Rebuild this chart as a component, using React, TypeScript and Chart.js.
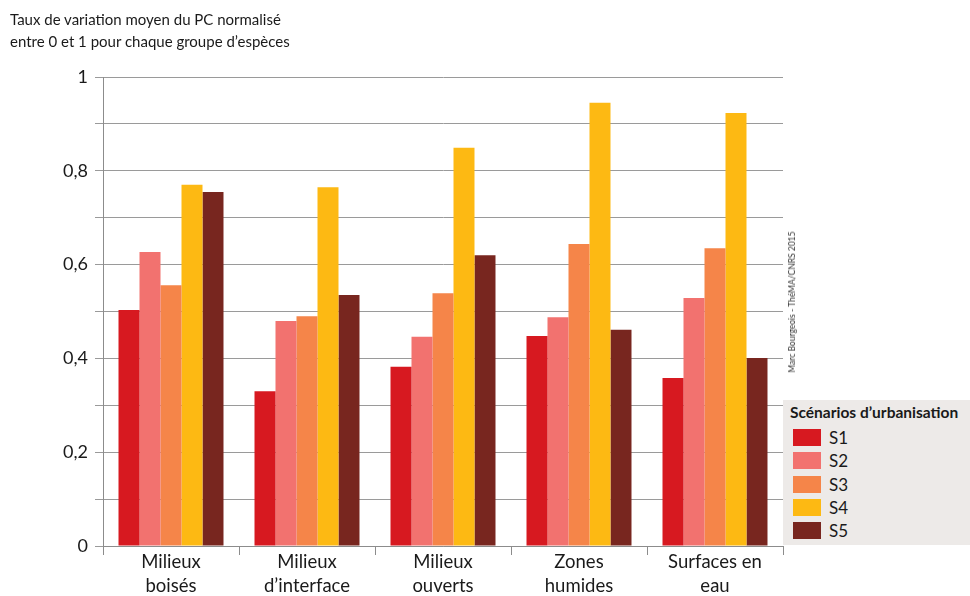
import React, { useEffect, useRef } from "react";
import { Chart, registerables } from "chart.js";

Chart.register(...registerables);

const categories: string[][] = [
  ["Milieux", "boisés"],
  ["Milieux", "d’interface"],
  ["Milieux", "ouverts"],
  ["Zones", "humides"],
  ["Surfaces en", "eau"],
];

const seriesNames = ["S1", "S2", "S3", "S4", "S5"];
const seriesColors = ["#D71920", "#F2726F", "#F58549", "#FDB913", "#78261F"];

const s1 = [0.503, 0.33, 0.382, 0.448, 0.358];
const s2 = [0.627, 0.48, 0.446, 0.488, 0.529];
const s3 = [0.556, 0.49, 0.539, 0.644, 0.635];
const s4 = [0.77, 0.765, 0.849, 0.945, 0.923];
const s5 = [0.755, 0.535, 0.62, 0.461, 0.401];
const seriesValues = [s1, s2, s3, s4, s5];

const yTickLabels: Record<string, string> = {
  "0": "0",
  "2": "0,2",
  "4": "0,4",
  "6": "0,6",
  "8": "0,8",
  "10": "1",
};

const titleLines = [
  "Taux de variation moyen du PC normalisé",
  "entre 0 et 1 pour chaque groupe d’espèces",
];
const legendTitle = "Scénarios d’urbanisation";
const credit = "Marc Bourgeois - ThéMA/CNRS 2015";

const FONT = "Lato, 'Open Sans', sans-serif";

export default function App() {
  const ref = useRef<HTMLCanvasElement | null>(null);

  useEffect(() => {
    if (!ref.current) return;
    const chart = new Chart(ref.current, {
      type: "bar",
      data: {
        labels: categories,
        datasets: seriesNames.map((name, i) => ({
          label: name,
          data: seriesValues[i],
          backgroundColor: seriesColors[i],
          borderWidth: 0,
          categoryPercentage: 0.772,
          barPercentage: 1,
        })),
      },
      options: {
        responsive: false,
        animation: false,
        devicePixelRatio: 1,
        layout: { padding: { left: 0, top: 77, right: 187, bottom: 0 } },
        plugins: {
          legend: { display: false },
          tooltip: { enabled: false },
          title: { display: false },
        },
        scales: {
          x: {
            offset: true,
            grid: {
              display: true,
              offset: true,
              drawOnChartArea: false,
              drawTicks: true,
              tickLength: 9,
              color: "#8c8c8c",
              lineWidth: 1,
            },
            border: { display: true, color: "#8c8c8c", width: 1 },
            ticks: {
              color: "#1a1a1a",
              font: { family: FONT, size: 18.5, lineHeight: 1.3 },
              padding: -5,
              maxRotation: 0,
              autoSkip: false,
            },
            afterFit: (scale: any) => {
              scale.height = 50;
            },
          },
          y: {
            min: 0,
            max: 1,
            grid: {
              color: "#9a9a9a",
              lineWidth: 1,
              drawTicks: true,
              tickLength: 8,
            },
            border: { display: true, color: "#8c8c8c", width: 1 },
            ticks: {
              stepSize: 0.1,
              color: "#1a1a1a",
              font: { family: FONT, size: 18 },
              padding: 7,
              callback: (v: any) => {
                const k = String(Math.round(Number(v) * 10));
                return yTickLabels[k] ?? "";
              },
            },
            afterFit: (scale: any) => {
              scale.width = 103;
            },
          },
        },
      },
    });
    return () => chart.destroy();
  }, []);

  return (
    <div
      style={{
        position: "fixed",
        left: 0,
        top: 0,
        width: 970,
        height: 596,
        background: "#ffffff",
        overflow: "hidden",
        fontFamily: FONT,
      }}
    >
      <canvas ref={ref} width={970} height={596} style={{ width: 970, height: 596, display: "block" }} />
      <div
        style={{
          position: "absolute",
          left: 10,
          top: 8,
          fontSize: 15,
          lineHeight: "22px",
          color: "#1a1a1a",
        }}
      >
        {titleLines.map((t, i) => (
          <div key={i}>{t}</div>
        ))}
      </div>
      <div
        style={{
          position: "absolute",
          left: 792,
          top: 302,
          transform: "translate(-50%, -50%) rotate(-90deg)",
          fontSize: 8.5,
          color: "#333",
          whiteSpace: "nowrap",
        }}
      >
        {credit}
      </div>
      <div
        style={{
          position: "absolute",
          left: 783,
          top: 400,
          width: 187,
          height: 145,
          background: "#EDEAE8",
        }}
      >
        <div
          style={{
            position: "absolute",
            left: 7,
            top: 3,
            fontSize: 15.5,
            fontWeight: 700,
            color: "#1a1a1a",
            whiteSpace: "nowrap",
          }}
        >
          {legendTitle}
        </div>
        {seriesNames.map((n, i) => (
          <div
            key={n}
            style={{
              position: "absolute",
              left: 10,
              top: 29 + i * 23.3,
              height: 17,
              display: "flex",
              alignItems: "center",
            }}
          >
            <div style={{ width: 28, height: 17, background: seriesColors[i] }} />
            <div style={{ marginLeft: 8, fontSize: 17, color: "#1a1a1a" }}>{n}</div>
          </div>
        ))}
      </div>
    </div>
  );
}
